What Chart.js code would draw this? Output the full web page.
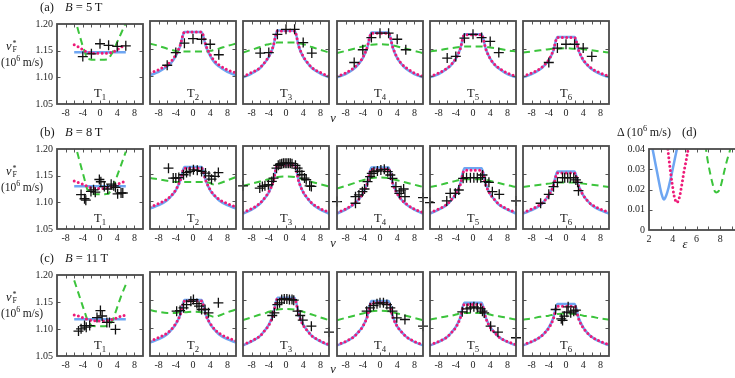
<!DOCTYPE html>
<html><head><meta charset="utf-8">
<script src="https://cdn.jsdelivr.net/npm/chart.js@4/dist/chart.umd.min.js"></script>
<style>
html,body{margin:0;padding:0;width:735px;height:378px;overflow:hidden;background:#fff;}
body{position:relative;font-family:'Liberation Serif','DejaVu Serif',serif;color:#1a1a1a;}
canvas{position:absolute;}
.t{position:absolute;white-space:nowrap;line-height:1;}
.t sup,.t sub{font-size:70%;line-height:0;}
</style></head><body>
<script>
// ---------- data ----------
const NU = [-10,-8,-6,-5,-4,-3,-2,0,2,3,4,5,6,8,10];
const NU_T1 = [-6,-5,-4,-3,-2,-1,0,1,2,3,4,5,6];

// Row (a) B = 5 T
const A1_BLUE  = [1.147,1.147,1.147,1.147,1.147,1.147,1.147,1.147,1.147,1.147,1.147,1.147,1.147];
const A1_MAG   = [1.161,1.157,1.152,1.147,1.145,1.145,1.145,1.145,1.145,1.147,1.152,1.157,1.161];
const A1_GREEN = [1.215,1.186,1.158,1.135,1.133,1.133,1.133,1.133,1.134,1.148,1.166,1.184,1.202];
const A1_NU = [-4,-2,0,2,4,6];
const A1_V  = [1.139,1.144,1.163,1.160,1.158,1.159];

const A2_BLUE  = [1.102,1.108,1.118,1.125,1.137,1.154,1.180,1.180,1.180,1.154,1.137,1.125,1.118,1.108,1.102];
const A2_MAG   = [1.106,1.112,1.121,1.128,1.139,1.156,1.180,1.180,1.180,1.156,1.139,1.128,1.121,1.112,1.106];
const A2_GREEN = [1.159,1.155,1.150,1.148,1.146,1.145,1.145,1.145,1.145,1.145,1.146,1.148,1.150,1.155,1.159];
const A2_NU = [-6,-4,-2,0,2,4,6];
const A2_V  = [1.120,1.143,1.160,1.168,1.167,1.158,1.139];

const A3_BLUE  = [1.098,1.105,1.115,1.124,1.135,1.153,1.183,1.183,1.183,1.153,1.135,1.124,1.115,1.105,1.098];
const A3_MAG   = [1.100,1.107,1.116,1.125,1.136,1.154,1.182,1.182,1.182,1.154,1.136,1.125,1.116,1.107,1.100];
const A3_GREEN = [1.143,1.148,1.153,1.156,1.158,1.160,1.161,1.161,1.161,1.160,1.158,1.156,1.153,1.148,1.143];
const A3_NU = [-6,-4,-2,0,2,4,6];
const A3_V  = [1.142,1.143,1.176,1.185,1.185,1.161,1.142];

const A4_BLUE  = [1.098,1.104,1.114,1.122,1.133,1.151,1.179,1.179,1.179,1.151,1.133,1.122,1.114,1.104,1.098];
const A4_MAG   = [1.100,1.106,1.116,1.123,1.134,1.152,1.178,1.178,1.178,1.152,1.134,1.123,1.116,1.106,1.100];
const A4_GREEN = [1.142,1.146,1.150,1.152,1.154,1.156,1.157,1.158,1.157,1.156,1.154,1.152,1.150,1.146,1.142];
const A4_NU = [-6,-4,-2,0,2,4,6];
const A4_V  = [1.125,1.148,1.170,1.178,1.178,1.167,1.148];

const A5_BLUE  = [1.098,1.104,1.114,1.121,1.132,1.149,1.176,1.176,1.176,1.149,1.132,1.121,1.114,1.104,1.098];
const A5_MAG   = [1.100,1.106,1.115,1.122,1.132,1.149,1.175,1.175,1.175,1.149,1.132,1.122,1.115,1.106,1.100];
const A5_GREEN = [1.145,1.147,1.150,1.151,1.152,1.153,1.154,1.154,1.154,1.153,1.152,1.151,1.150,1.147,1.145];
const A5_NU = [-6,-4,-2,0,2,4,6];
const A5_V  = [1.133,1.136,1.169,1.176,1.170,1.163,1.143];

const A6_BLUE  = [1.098,1.104,1.113,1.120,1.129,1.145,1.171,1.171,1.171,1.145,1.129,1.120,1.113,1.104,1.098];
const A6_MAG   = [1.100,1.106,1.114,1.121,1.130,1.146,1.170,1.170,1.170,1.146,1.130,1.121,1.114,1.106,1.100];
const A6_GREEN = [1.143,1.145,1.147,1.148,1.149,1.150,1.150,1.151,1.150,1.150,1.149,1.148,1.147,1.145,1.143];
const A6_NU = [-4,-2,0,2,4,6];
const A6_V  = [1.125,1.151,1.158,1.158,1.151,1.136];

// Row (b) B = 8 T
const B1_BLUE  = [1.130,1.130,1.130,1.130,1.130,1.130,1.130,1.130,1.130,1.130,1.130,1.130,1.130];
const B1_MAG   = [1.140,1.137,1.134,1.130,1.127,1.126,1.126,1.126,1.127,1.130,1.134,1.137,1.140];
const B1_GREEN = [1.215,1.185,1.155,1.125,1.116,1.115,1.115,1.115,1.116,1.127,1.150,1.172,1.195];
const B1_NU = [-4.4,-3.6,-3.3,-2.1,-1.5,-1.1,-0.15,0.2,1.0,1.8,2.6,3.2,3.6,4.1,4.9,5.3];
const B1_V  = [1.1145,1.1067,1.104,1.1205,1.1235,1.119,1.1428,1.1386,1.1295,1.125,1.134,1.131,1.128,1.116,1.1175,1.1175];

const B2_BLUE  = [1.087,1.093,1.102,1.110,1.120,1.137,1.162,1.162,1.162,1.137,1.120,1.110,1.102,1.093,1.087];
const B2_MAG   = [1.090,1.096,1.104,1.111,1.121,1.137,1.160,1.160,1.160,1.137,1.121,1.111,1.104,1.096,1.090];
const B2_GREEN = [1.142,1.140,1.137,1.136,1.135,1.135,1.135,1.135,1.135,1.135,1.133,1.130,1.132,1.138,1.144];
const B2_NU = [-5.7,-4.6,-4.0,-3.3,-2.2,-1.5,-0.7,0.1,1.0,2.0,2.9,3.7,4.3,5.1,5.9];
const B2_V  = [1.160,1.142,1.142,1.143,1.148,1.152,1.154,1.157,1.156,1.154,1.151,1.146,1.140,1.145,1.152];

const B3_BLUE  = [1.078,1.085,1.096,1.105,1.116,1.136,1.167,1.167,1.167,1.136,1.116,1.105,1.096,1.085,1.078];
const B3_MAG   = [1.080,1.087,1.097,1.106,1.117,1.135,1.165,1.165,1.165,1.135,1.117,1.106,1.097,1.087,1.080];
const B3_GREEN = [1.128,1.132,1.136,1.138,1.140,1.142,1.144,1.145,1.144,1.142,1.140,1.137,1.135,1.131,1.127];
const B3_NU = [-10,-6.1,-5.5,-4.9,-4.1,-3.3,-2.9,-2.2,-1.8,-1.4,-1.0,-0.6,-0.2,0.2,0.6,1.0,1.4,2.2,2.7,3.2,3.7,4.3,4.7,5.5,5.9];
const B3_V  = [1.128,1.124,1.127,1.128,1.130,1.136,1.142,1.160,1.165,1.167,1.168,1.169,1.169,1.169,1.169,1.169,1.168,1.165,1.160,1.154,1.148,1.142,1.139,1.128,1.127];

const B4_BLUE  = [1.078,1.085,1.095,1.103,1.114,1.132,1.161,1.161,1.161,1.132,1.114,1.103,1.095,1.085,1.078];
const B4_MAG   = [1.080,1.086,1.096,1.103,1.114,1.131,1.158,1.158,1.158,1.131,1.114,1.103,1.096,1.086,1.080];
const B4_GREEN = [1.123,1.128,1.133,1.136,1.138,1.140,1.142,1.143,1.142,1.140,1.138,1.136,1.134,1.130,1.126];
const B4_NU = [-10,-5.7,-5.7,-4.9,-4.1,-3.6,-2.9,-2.3,-1.9,-1.4,-0.6,0.2,1.0,1.8,2.4,2.9,3.7,4.5,4.9,5.5,5.8,10];
const B4_V  = [1.0995,1.0965,1.1085,1.1115,1.1175,1.1223,1.1356,1.1446,1.1506,1.1536,1.1548,1.1567,1.1578,1.1536,1.1476,1.1416,1.1265,1.1145,1.119,1.1223,1.1085,1.1067];

const B5_BLUE  = [1.078,1.085,1.094,1.103,1.113,1.131,1.160,1.160,1.160,1.131,1.113,1.103,1.094,1.085,1.078];
const B5_MAG   = [1.080,1.086,1.095,1.103,1.113,1.129,1.156,1.156,1.156,1.129,1.113,1.103,1.095,1.086,1.080];
const B5_GREEN = [1.126,1.129,1.133,1.135,1.137,1.139,1.140,1.140,1.140,1.139,1.137,1.135,1.133,1.129,1.126];
const B5_NU = [-10,-6.1,-5.3,-4.1,-3.3,-2.3,-1.5,-0.6,0.2,1.0,1.8,2.2,2.9,3.7,4.5,6.1,10];
const B5_V  = [1.0977,1.1007,1.1145,1.1145,1.1205,1.1416,1.1428,1.1428,1.1428,1.1428,1.1428,1.1476,1.1356,1.1344,1.1175,1.1127,1.1007];

const B6_BLUE  = [1.078,1.084,1.093,1.101,1.111,1.127,1.154,1.154,1.154,1.127,1.111,1.101,1.093,1.084,1.078];
const B6_MAG   = [1.080,1.086,1.094,1.101,1.111,1.126,1.151,1.151,1.151,1.126,1.111,1.101,1.094,1.086,1.080];
const B6_GREEN = [1.126,1.128,1.130,1.131,1.132,1.133,1.134,1.134,1.134,1.133,1.132,1.131,1.130,1.128,1.126];
const B6_NU = [-5.9,-4.0,-2.9,-2.0,-0.8,-0.3,0.4,1.0,1.8,2.3,2.7,2.9];
const B6_V  = [1.0965,1.1127,1.1265,1.1344,1.1428,1.1428,1.1428,1.1428,1.1428,1.1386,1.1344,1.1193];

// Row (c) B = 11 T
const C1_BLUE  = [1.118,1.118,1.118,1.118,1.118,1.118,1.118,1.118,1.118,1.118,1.118,1.118,1.118];
const C1_MAG   = [1.126,1.124,1.121,1.118,1.116,1.115,1.115,1.115,1.116,1.118,1.121,1.124,1.126];
const C1_GREEN = [1.190,1.166,1.142,1.118,1.106,1.105,1.105,1.105,1.106,1.117,1.140,1.163,1.182];
const C1_NU = [-5.0,-4.4,-3.6,-3.2,-2.4,-0.7,0.1,0.5,1.6,2.2,3.6];
const C1_V  = [1.0962,1.1004,1.1063,1.1033,1.1063,1.1211,1.1342,1.1241,1.1122,1.1122,1.0992];

const C2_BLUE  = [1.074,1.080,1.089,1.097,1.107,1.123,1.150,1.150,1.150,1.123,1.107,1.097,1.089,1.080,1.074];
const C2_MAG   = [1.077,1.083,1.091,1.098,1.108,1.123,1.148,1.148,1.148,1.123,1.108,1.098,1.091,1.083,1.077];
const C2_GREEN = [1.132,1.129,1.127,1.127,1.127,1.128,1.128,1.129,1.128,1.126,1.122,1.120,1.122,1.128,1.133];
const C2_NU = [-3.8,-3.0,-2.2,-1.5,-0.5,0.1,0.9,1.4,2.0,2.8,3.6,5.9];
const C2_V  = [1.130,1.1312,1.136,1.1419,1.1478,1.1508,1.1437,1.139,1.133,1.133,1.1271,1.1449];

const C3_BLUE  = [1.069,1.076,1.086,1.095,1.106,1.124,1.154,1.154,1.154,1.124,1.106,1.095,1.086,1.076,1.069];
const C3_MAG   = [1.070,1.077,1.086,1.095,1.105,1.123,1.152,1.152,1.152,1.123,1.105,1.095,1.086,1.077,1.070];
const C3_GREEN = [1.114,1.119,1.124,1.126,1.129,1.131,1.133,1.134,1.133,1.131,1.129,1.126,1.124,1.119,1.114];
const C3_NU = [-3.2,-2.7,-2.0,-1.5,-1.0,-0.4,0.2,0.8,1.4,1.8,2.7,3.3,3.9,5.9,10];
const C3_V  = [1.1223,1.127,1.1419,1.1449,1.1508,1.152,1.152,1.1508,1.1508,1.1496,1.130,1.1223,1.114,1.1033,1.0927];

const C4_BLUE  = [1.069,1.075,1.085,1.093,1.103,1.120,1.148,1.148,1.148,1.120,1.103,1.093,1.085,1.075,1.069];
const C4_MAG   = [1.070,1.076,1.085,1.093,1.103,1.119,1.145,1.145,1.145,1.119,1.103,1.093,1.085,1.076,1.070];
const C4_GREEN = [1.114,1.118,1.122,1.124,1.126,1.128,1.130,1.131,1.130,1.128,1.126,1.124,1.122,1.118,1.114];
const C4_NU = [-3.1,-2.3,-1.5,-0.7,0.0,0.8,1.6,2.4,2.9,3.9,5.8,10];
const C4_V  = [1.130,1.136,1.1401,1.1431,1.1449,1.1449,1.1419,1.136,1.130,1.1182,1.1152,1.1033];

const C5_BLUE  = [1.069,1.075,1.084,1.092,1.102,1.118,1.145,1.145,1.145,1.118,1.102,1.092,1.084,1.075,1.069];
const C5_MAG   = [1.070,1.076,1.084,1.092,1.101,1.117,1.142,1.142,1.142,1.117,1.101,1.092,1.084,1.076,1.070];
const C5_GREEN = [1.115,1.118,1.121,1.122,1.124,1.126,1.127,1.127,1.127,1.126,1.124,1.122,1.121,1.118,1.115];
const C5_NU = [-2.5,-1.4,-0.6,0.2,1.0,1.8,2.2,2.6,4.1,5.8,10];
const C5_V  = [1.1289,1.1342,1.136,1.1378,1.136,1.1342,1.130,1.127,1.1033,1.0927,1.0826];

const C6_BLUE  = [1.069,1.075,1.084,1.091,1.101,1.117,1.143,1.143,1.143,1.117,1.101,1.091,1.084,1.075,1.069];
const C6_MAG   = [1.070,1.076,1.084,1.091,1.100,1.115,1.139,1.139,1.139,1.115,1.100,1.091,1.084,1.076,1.070];
const C6_GREEN = [1.115,1.117,1.120,1.121,1.122,1.124,1.125,1.126,1.125,1.124,1.122,1.121,1.120,1.117,1.115];
const C6_NU = [-2.4,-1.1,-0.8,-0.4,0.2,0.5,1.1,1.8,2.3];
const C6_V  = [1.133,1.1164,1.1135,1.1211,1.1283,1.1378,1.1271,1.130,1.1318];

// Panel (d)
const D_BLUE_EPS  = [2.2,2.3,2.5,2.7,2.9,3.05,3.25,3.45,3.65,3.85,4.1,4.35,4.45];
const D_BLUE      = [0.043,0.040,0.034,0.028,0.022,0.018,0.0151,0.017,0.021,0.026,0.033,0.040,0.043];
const D_MAG_EPS   = [3.55,3.7,3.85,4.0,4.15,4.35,4.55,4.75,4.95,5.15,5.35];
const D_MAG       = [0.042,0.034,0.027,0.021,0.016,0.0135,0.016,0.022,0.029,0.035,0.042];
const D_GREEN_EPS = [6.75,6.95,7.15,7.35,7.55,7.72,7.9,8.1,8.3,8.55,8.85,8.95];
const D_GREEN     = [0.042,0.034,0.028,0.023,0.019,0.0186,0.0195,0.023,0.028,0.034,0.040,0.043];

const Y_TICKS_LABEL = ['1.05','1.10','1.15','1.20'];
const FIELDS = ['5','8','11'];
const ROW_TAGS = ['(a)','(b)','(c)'];

// ---------- layout / style ----------
const FONT = "'Liberation Serif','DejaVu Serif',serif";
const COL_LEFT = [57,150,243,337,430,523];
const ROW_TOP = [21,146,272];
const ROW_H = [83,83,84];
const BOX_W = 86;
const C_BLUE = '#6ea6f2', C_MAG = '#ee1a78', C_GREEN = '#3cc43c';

const pts = (xs, ys) => xs.map((x, i) => ({x, y: ys[i]}));

const frameTicks = {
  id: 'frameTicks',
  afterDatasetsDraw(chart) {
    const {ctx, chartArea: a, scales: {x, y}} = chart;
    ctx.save();
    ctx.strokeStyle = '#555';
    ctx.lineWidth = 1;
    ctx.beginPath();
    for (const t of x.ticks) {
      const p = Math.round(x.getPixelForValue(t.value)) + 0.5;
      if (p <= a.left + 1 || p >= a.right - 1) continue;
      ctx.moveTo(p, a.bottom); ctx.lineTo(p, a.bottom - 3.5);
      ctx.moveTo(p, a.top); ctx.lineTo(p, a.top + 3.5);
    }
    for (const t of y.ticks) {
      const p = Math.round(y.getPixelForValue(t.value)) + 0.5;
      if (p <= a.top + 1 || p >= a.bottom - 1) continue;
      ctx.moveTo(a.left, p); ctx.lineTo(a.left + 3.5, p);
      ctx.moveTo(a.right, p); ctx.lineTo(a.right - 3.5, p);
    }
    ctx.stroke();
    ctx.lineWidth = 1.8;
    ctx.strokeStyle = '#4a4a4a';
    ctx.strokeRect(a.left, a.top, a.right - a.left, a.bottom - a.top);
    ctx.restore();
  }
};

function makeChart(x0, y0, w, h, o) {
  const PL = o.PL, PR = 7, PT = 7, PB = 17;
  const cv = document.createElement('canvas');
  cv.width = w + PL + PR; cv.height = h + PT + PB;
  cv.style.left = (x0 - PL) + 'px'; cv.style.top = (y0 - PT) + 'px';
  cv.style.width = cv.width + 'px'; cv.style.height = cv.height + 'px';
  document.body.appendChild(cv);
  const tickFont = {family: FONT, size: 10};
  return new Chart(cv, {
    type: 'scatter',
    data: {datasets: o.datasets},
    options: {
      responsive: false, animation: false, devicePixelRatio: 1, events: [],
      layout: {padding: {left: 0, right: PR, top: PT, bottom: 0}},
      plugins: {legend: {display: false}, tooltip: {enabled: false}},
      scales: {
        x: {type: 'linear', min: o.xmin, max: o.xmax,
            afterFit(s) { s.height = PB; },
            grid: {display: false, drawTicks: false}, border: {display: false},
            ticks: {stepSize: o.xstep, autoSkip: false, maxRotation: 0, padding: 3,
                    color: '#222', font: tickFont, callback: o.xlabel}},
        y: {type: 'linear', min: o.ymin, max: o.ymax,
            afterFit(s) { s.width = PL; },
            grid: {display: false, drawTicks: false}, border: {display: false},
            ticks: {stepSize: o.ystep, autoSkip: false, padding: 4, display: o.yshow,
                    color: '#222', font: tickFont, callback: o.ylabel}}
      }
    },
    plugins: [frameTicks]
  });
}

function lineDs(data, kind, smooth) {
  const base = {data, showLine: true, pointRadius: 0, tension: 0,
                cubicInterpolationMode: smooth ? 'monotone' : 'default'};
  if (kind === 'blue') return Object.assign(base, {borderColor: C_BLUE, borderWidth: 2.5});
  if (kind === 'mag') return Object.assign(base, {borderColor: C_MAG, borderWidth: 3, borderDash: [0, 4.3], borderCapStyle: 'round'});
  return Object.assign(base, {borderColor: C_GREEN, borderWidth: 2, borderDash: [7, 4.5]});
}
function crossDs(data) {
  return {data, showLine: false, pointStyle: 'cross', pointRadius: 5, borderColor: '#111',
          borderWidth: 1.3, backgroundColor: '#111', clip: false};
}

const PANELS = [
  [[A1_BLUE,A1_MAG,A1_GREEN,A1_NU,A1_V],[A2_BLUE,A2_MAG,A2_GREEN,A2_NU,A2_V],[A3_BLUE,A3_MAG,A3_GREEN,A3_NU,A3_V],
   [A4_BLUE,A4_MAG,A4_GREEN,A4_NU,A4_V],[A5_BLUE,A5_MAG,A5_GREEN,A5_NU,A5_V],[A6_BLUE,A6_MAG,A6_GREEN,A6_NU,A6_V]],
  [[B1_BLUE,B1_MAG,B1_GREEN,B1_NU,B1_V],[B2_BLUE,B2_MAG,B2_GREEN,B2_NU,B2_V],[B3_BLUE,B3_MAG,B3_GREEN,B3_NU,B3_V],
   [B4_BLUE,B4_MAG,B4_GREEN,B4_NU,B4_V],[B5_BLUE,B5_MAG,B5_GREEN,B5_NU,B5_V],[B6_BLUE,B6_MAG,B6_GREEN,B6_NU,B6_V]],
  [[C1_BLUE,C1_MAG,C1_GREEN,C1_NU,C1_V],[C2_BLUE,C2_MAG,C2_GREEN,C2_NU,C2_V],[C3_BLUE,C3_MAG,C3_GREEN,C3_NU,C3_V],
   [C4_BLUE,C4_MAG,C4_GREEN,C4_NU,C4_V],[C5_BLUE,C5_MAG,C5_GREEN,C5_NU,C5_V],[C6_BLUE,C6_MAG,C6_GREEN,C6_NU,C6_V]]
];

function addText(html, x, y, anchor, size, extra) {
  const d = document.createElement('div');
  d.className = 't';
  d.innerHTML = html;
  d.style.left = x + 'px'; d.style.top = y + 'px';
  d.style.fontSize = (size || 12) + 'px';
  d.style.transform = anchor === 'c' ? 'translate(-50%,-50%)' : 'translate(0,-50%)';
  if (extra) Object.assign(d.style, extra);
  document.body.appendChild(d);
}

const xLab = v => (Math.abs(v) <= 8 && v % 4 === 0) ? String(v) : '';
const yLab = v => {
  const s = v.toFixed(2);
  return Y_TICKS_LABEL.includes(s) ? s : '';
};

PANELS.forEach((row, r) => {
  row.forEach((p, c) => {
    const [blue, mag, green, nu, vv] = p;
    const grid = c === 0 ? NU_T1 : NU;
    const smooth = c !== 0;
    makeChart(COL_LEFT[c], ROW_TOP[r], BOX_W, ROW_H[r], {
      PL: c === 0 ? 40 : 7, xmin: -10, xmax: 10, xstep: 2, xlabel: xLab,
      ymin: 1.05, ymax: 1.20, ystep: 0.05, yshow: c === 0, ylabel: yLab,
      datasets: [crossDs(pts(nu, vv)), lineDs(pts(grid, mag), 'mag', smooth),
                 lineDs(pts(grid, green), 'green', smooth), lineDs(pts(grid, blue), 'blue', smooth)]
    });
    addText('T<sub>' + (c + 1) + '</sub>', COL_LEFT[c] + BOX_W / 2, ROW_TOP[r] + ROW_H[r] - 11, 'c', 12.5);
  });
  const top = ROW_TOP[r];
  addText(ROW_TAGS[r], 40, top - 14, 'l', 12.5);
  addText('<i>B</i> = ' + FIELDS[r] + '&#8239;T', 65, top - 14, 'l', 12.5);
  addText('<i>v</i><span style="display:inline-block;vertical-align:middle;line-height:0.8;font-size:8px;margin-left:1px"><span style="display:block">*</span><span style="display:block">F</span></span>', 6, top + 26, 'l', 12.5);
  addText('(10<sup>6</sup>&#8201;m/s)', 1, top + 42, 'l', 11.5);
  addText('<i>ν</i>', 333, top + 97, 'c', 12.5);
});

// panel (d)
makeChart(649, 146, 95, 84, {
  PL: 34, xmin: 2, xmax: 10, xstep: 1,
  xlabel: v => (v % 2 === 0 && v < 10) ? String(v) : '',
  ymin: 0, ymax: 0.04, ystep: 0.01, yshow: true,
  ylabel: v => v === 0 ? '0' : v.toFixed(2),
  datasets: [lineDs(pts(D_MAG_EPS, D_MAG), 'mag', false),
             lineDs(pts(D_GREEN_EPS, D_GREEN), 'green', false),
             lineDs(pts(D_BLUE_EPS, D_BLUE), 'blue', false)].map(d => Object.assign(d, {tension: 0.35}))
});
addText('Δ (10<sup>6</sup>&#8201;m/s)', 617, 132, 'l', 12);
addText('(d)', 682, 132, 'l', 12.5);
addText('<i>ε</i>', 685, 244, 'c', 12.5);
</script>
</body></html>
